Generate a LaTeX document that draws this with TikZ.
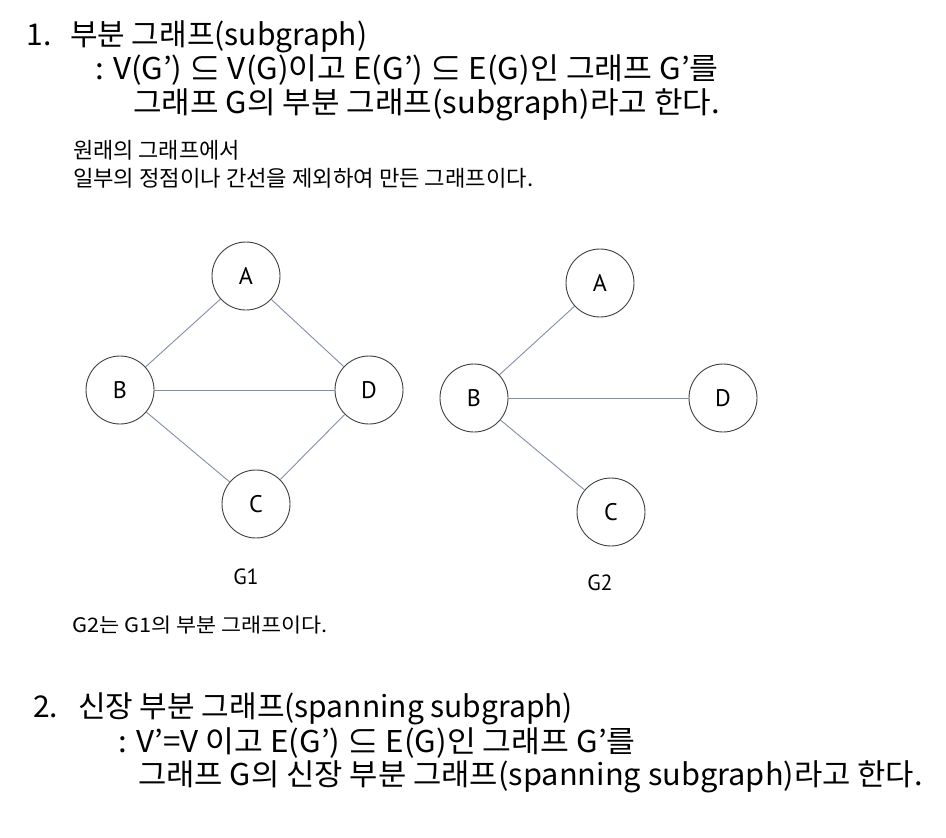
\documentclass[tikz,border=0pt]{standalone}
\usepackage{fontspec}
\setmainfont{Noto Sans CJK KR}
\newfontfamily\lblfont{PT Sans}
\begin{document}
\begin{tikzpicture}[x=1pt,y=-1pt,
  txt/.style={anchor=base west,inner sep=0pt,outer sep=0pt},
  big/.style={txt,font=\fontsize{30}{34}\selectfont},
  small/.style={txt,font=\fontsize{22}{24}\selectfont},
  vert/.style={circle,draw=black!75,line width=0.9pt,minimum size=68pt,inner sep=0pt,font=\lblfont\fontsize{24}{26}\selectfont},
  edge/.style={draw={rgb,255:red,128;green,144;blue,168},line width=0.9pt},
  glabel/.style={inner sep=0pt,font=\lblfont\fontsize{22}{24}\selectfont}]
\useasboundingbox[fill=white] (0,0) rectangle (946,838);
% section 1 text
\node[big] (n1) at (27,45) {1.};
\node[big] (t1) at (70,45) {부분 그래프(subgraph)};
\node[big] (t2) at (95,79) {\scalebox{1.045}[1]{: V(G’) ⊆ V(G)이고 E(G’) ⊆ E(G)인 그래프 G’를}};
\node[big] (t3) at (133,113) {\scalebox{1.035}[1]{그래프 G의 부분 그래프(subgraph)라고 한다.}};
\node[small] (s1) at (73,158) {원래의 그래프에서};
\node[small] (s2) at (73,186) {\scalebox{1.01}[1]{일부의 정점이나 간선을 제외하여 만든 그래프이다.}};
% G1
\node[vert] (A1) at (246,276) {A};
\node[vert] (B1) at (120,390) {B};
\node[vert] (D1) at (369,390) {D};
\node[vert] (C1) at (256,504) {C};
\draw[edge] (A1) -- (B1);
\draw[edge] (A1) -- (D1);
\draw[edge] (B1) -- (D1);
\draw[edge] (B1) -- (C1);
\draw[edge] (D1) -- (C1);
\node[glabel] (g1) at (246,577) {G1};
% G2
\node[vert] (A2) at (600,283) {A};
\node[vert] (B2) at (474,398) {B};
\node[vert] (D2) at (723,398) {D};
\node[vert] (C2) at (611,512) {C};
\draw[edge] (A2) -- (B2);
\draw[edge] (B2) -- (D2);
\draw[edge] (B2) -- (C2);
\node[glabel] (g2) at (600,583) {G2};
\node[txt,font=\fontsize{20}{22}\selectfont] (cap) at (72,632) {\scalebox{1.09}[1]{G2는 G1의 부분 그래프이다.}};
% section 2
\node[big] (n2) at (33,717) {2.};
\node[big] (u1) at (78,717) {신장 부분 그래프(spanning subgraph)};
\node[big] (u2) at (118,752) {\scalebox{1.045}[1]{: V’=V 이고 E(G’) ⊆ E(G)인 그래프 G’를}};
\node[big] (u3) at (138,785) {\scalebox{1.026}[1]{그래프 G의 신장 부분 그래프(spanning subgraph)라고 한다.}};
\end{tikzpicture}
\end{document}
